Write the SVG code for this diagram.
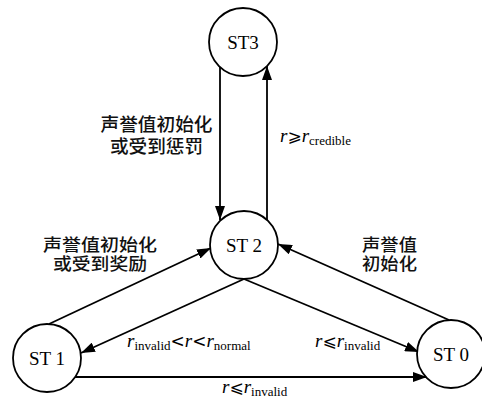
<svg xmlns="http://www.w3.org/2000/svg" width="482" height="400" viewBox="0 0 482 400">
<style>
.node circle{fill:#fff;stroke:#000;stroke-width:1.8}
.nt{font-family:"Liberation Serif","Times New Roman",serif;font-size:19px;text-anchor:middle;fill:#000}
.cn{font-family:"Noto Sans CJK SC","Noto Sans",sans-serif;font-size:18px;font-weight:500;text-anchor:middle;fill:#111}
.cn2{font-size:17px}
.m{font-family:"Liberation Serif","DejaVu Serif",serif;font-size:19px;fill:#000}
.i{font-style:italic}
.s{font-size:13px}
.op{font-family:"DejaVu Sans","Liberation Serif",sans-serif;font-size:17px}
#edges line{stroke:#000;stroke-width:1.8;fill:none}
</style>
<defs>
<marker id="ah" viewBox="0 0 14 10" refX="14" refY="5" markerWidth="14" markerHeight="10" markerUnits="userSpaceOnUse" orient="auto">
<path d="M0,0 L14,5 L0,10 z" fill="#000"/>
</marker>
</defs>
<rect width="482" height="400" fill="#fff"/>
<g id="edges">
<line x1="220" y1="67" x2="220" y2="220" marker-end="url(#ah)"/>
<line x1="267" y1="221" x2="267" y2="66" marker-end="url(#ah)"/>
<line x1="49" y1="324" x2="211" y2="248" marker-end="url(#ah)"/>
<line x1="244" y1="279" x2="81" y2="353" marker-end="url(#ah)"/>
<line x1="244" y1="279" x2="419" y2="352" marker-end="url(#ah)"/>
<line x1="449" y1="320" x2="278" y2="244" marker-end="url(#ah)"/>
<line x1="72" y1="377" x2="427" y2="377" marker-end="url(#ah)"/>
</g>
<g id="ST3" class="node"><circle cx="243" cy="42" r="34"/><text class="nt" x="243" y="49" font-family="Liberation Serif, serif">ST3</text></g>
<g id="ST2" class="node"><circle cx="244" cy="245" r="34"/><text class="nt" x="244" y="252" font-family="Liberation Serif, serif">ST 2</text></g>
<g id="ST1" class="node"><circle cx="47" cy="358" r="34"/><text class="nt" x="47" y="365" font-family="Liberation Serif, serif">ST 1</text></g>
<g id="ST0" class="node"><circle cx="451" cy="354" r="34"/><text class="nt" x="451" y="361" font-family="Liberation Serif, serif">ST 0</text></g>
<g id="labels">
<text class="cn" x="156.5" y="131" textLength="112" lengthAdjust="spacingAndGlyphs">声誉值初始化</text>
<text class="cn" x="156.5" y="153" textLength="93" lengthAdjust="spacingAndGlyphs">或受到惩罚</text>
<text class="cn cn2" x="100" y="251" textLength="114" lengthAdjust="spacingAndGlyphs">声誉值初始化</text>
<text class="cn cn2" x="100" y="270" textLength="94" lengthAdjust="spacingAndGlyphs">或受到奖励</text>
<text class="cn cn2" x="389.5" y="251" textLength="55" lengthAdjust="spacingAndGlyphs">声誉值</text>
<text class="cn cn2" x="389.5" y="270" textLength="55" lengthAdjust="spacingAndGlyphs">初始化</text>
<text class="m" x="280" y="142"><tspan class="i">r</tspan><tspan class="op">⩾</tspan><tspan class="i">r</tspan><tspan class="s" dy="3">credible</tspan></text>
<text class="m" x="127" y="347"><tspan class="i">r</tspan><tspan class="s" dy="3">invalid</tspan><tspan class="op" dy="-3">&lt;</tspan><tspan class="i">r</tspan><tspan class="op">&lt;</tspan><tspan class="i">r</tspan><tspan class="s" dy="3">normal</tspan></text>
<text class="m" x="315" y="347"><tspan class="i">r</tspan><tspan class="op">⩽</tspan><tspan class="i">r</tspan><tspan class="s" dy="3">invalid</tspan></text>
<text class="m" x="222" y="393"><tspan class="i">r</tspan><tspan class="op">⩽</tspan><tspan class="i">r</tspan><tspan class="s" dy="2.5">invalid</tspan></text>
</g>
</svg>
